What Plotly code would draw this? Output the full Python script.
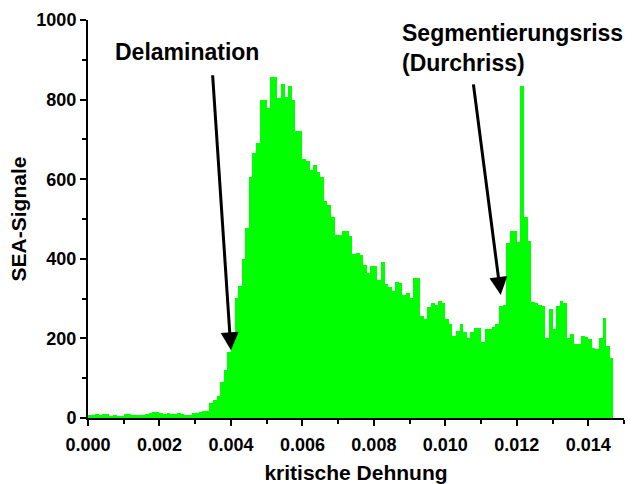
import plotly.graph_objects as go

# Histogram of critical strain values (bin width 0.0001)
bin_width = 0.0001
signal_counts = [
    7, 8, 9, 8, 9, 10, 6, 7, 6, 6, 9, 9, 8, 7, 8, 8, 9, 13, 15, 16,
    12, 11, 12, 11, 10, 12, 11, 8, 8, 12, 13, 16, 17, 17,
    37, 45, 55, 90, 120, 165, 200, 302, 331, 400, 477, 606, 665, 690, 798, 798,
    780, 858, 858, 805, 840, 806, 835, 800, 720, 720, 650, 645, 623, 635, 619, 606,
    546, 535, 504, 460, 460, 469, 469, 458, 412, 415, 410, 385, 365, 381, 381, 346,
    392, 337, 328, 320, 341, 338, 310, 315, 302, 352, 352, 256, 248, 280, 288, 283,
    294, 290, 248, 235, 205, 219, 235, 215, 202, 215, 227, 227, 192, 223, 223, 228,
    235, 281, 283, 440, 469, 469, 442, 835, 506, 444, 292, 290, 285, 281, 202, 275,
    223, 281, 294, 290, 202, 212, 187, 187, 206, 204, 198, 175, 173, 200, 252, 181,
    152,
]
strain = [round(i * bin_width + bin_width / 2, 6) for i in range(len(signal_counts))]

x_tick_values = [0.000, 0.002, 0.004, 0.006, 0.008, 0.010, 0.012, 0.014]
y_tick_values = [0, 200, 400, 600, 800, 1000]

FONT = "Liberation Sans, Arial, sans-serif"

fig = go.Figure(
    go.Bar(
        x=strain,
        y=signal_counts,
        width=bin_width,
        marker=dict(color="#00FF00", line=dict(width=0)),
        showlegend=False,
    )
)

axis_common = dict(
    showline=True,
    linewidth=2,
    linecolor="black",
    ticks="outside",
    tickwidth=2,
    tickcolor="black",
    ticklen=6,
    showgrid=False,
    zeroline=False,
    automargin=False,
    tickfont=dict(family=FONT, size=18, color="black", weight="bold"),
    mirror=False,
)

fig.update_xaxes(
    **axis_common,
    range=[0, 0.015],
    tickvals=x_tick_values,
    tickformat=".3f",
    ticklabelstandoff=3,
    minor=dict(dtick=0.001, tick0=0, ticks="outside", ticklen=4, tickwidth=2, tickcolor="black"),
    title=dict(text="kritische Dehnung", font=dict(family=FONT, size=21, color="black", weight="bold"), standoff=12),
)
fig.update_yaxes(
    **axis_common,
    range=[0, 1000],
    tickvals=y_tick_values,
    minor=dict(dtick=100, tick0=0, ticks="outside", ticklen=4, tickwidth=2, tickcolor="black"),
    title=dict(text="SEA-Signale", font=dict(family=FONT, size=21, color="black", weight="bold"), standoff=4),
)

label_font = dict(family=FONT, size=23, color="black", weight="bold")

# Text labels
fig.add_annotation(
    x=0.000695, y=920, xref="x", yref="y", text="Delamination",
    showarrow=False, xanchor="left", yanchor="middle", font=label_font,
)
fig.add_annotation(
    x=0.00873, y=1.005, xref="x", yref="paper", text="Segmentierungsriss<br>(Durchriss)",
    showarrow=False, xanchor="left", yanchor="top", align="left", font=label_font,
)

# Arrows pointing to the features
arrow_style = dict(
    text="", showarrow=True, arrowhead=2, arrowsize=1.2, arrowwidth=3,
    arrowcolor="black", axref="x", ayref="y", xref="x", yref="y", standoff=0,
)
fig.add_annotation(x=0.0040, y=170, ax=0.003485, ay=865, **arrow_style)
fig.add_annotation(x=0.01155, y=309, ax=0.01078, ay=842, **arrow_style)

fig.update_layout(
    width=635,
    height=484,
    margin=dict(l=88, r=11, t=20, b=66),
    paper_bgcolor="white",
    plot_bgcolor="white",
    bargap=0,
)

fig.write_html("out.html")
